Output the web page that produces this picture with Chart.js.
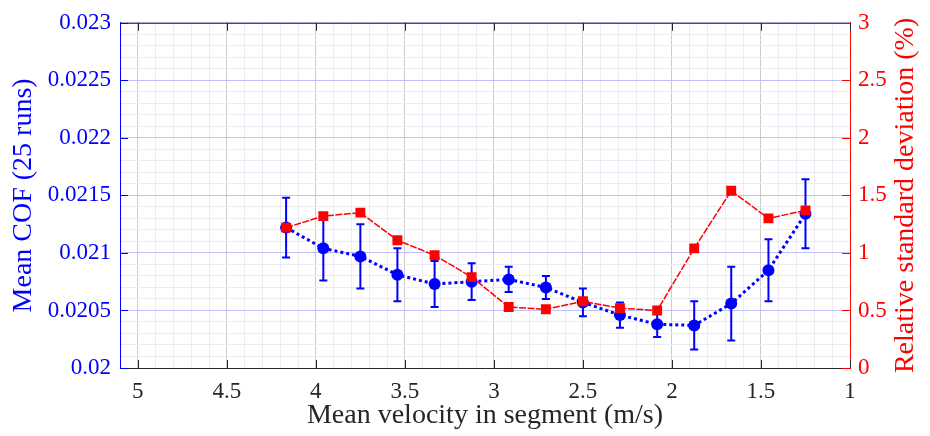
<!DOCTYPE html>
<html>
<head>
<meta charset="utf-8">
<script src="https://cdn.jsdelivr.net/npm/chart.js@4.4.1/dist/chart.umd.min.js"></script>
<style>
  html, body { margin: 0; padding: 0; background: #fff; }
  #wrap { width: 930px; height: 436px; }
</style>
</head>
<body>
<div id="wrap"><canvas id="cofChart" width="930" height="436"></canvas></div>
<script>
// data
const velocity = [4.167, 3.958, 3.75, 3.542, 3.333, 3.125, 2.917, 2.708, 2.5, 2.292, 2.083, 1.875, 1.667, 1.458, 1.25];
const meanCof = [0.02122, 0.02104, 0.02097, 0.02081, 0.02073, 0.02075, 0.02077, 0.02070, 0.02057, 0.02046, 0.02038, 0.02037, 0.02056, 0.02085, 0.02134];
const cofErr = [0.00026, 0.00028, 0.00028, 0.00023, 0.00020, 0.00016, 0.00011, 0.00010, 0.00012, 0.00011, 0.00011, 0.00021, 0.00032, 0.00027, 0.00030];
const relStd = [1.22, 1.32, 1.35, 1.11, 0.98, 0.79, 0.53, 0.51, 0.58, 0.52, 0.50, 1.04, 1.54, 1.30, 1.37];

const xTitle = 'Mean velocity in segment (m/s)';
const yTitle = 'Mean COF (25 runs)';
const y1Title = 'Relative standard deviation (%)';

const BLUE = '#0000ff';
const RED = '#ff0000';
const AXIS = '#262626';
const tickFont = { family: '"Liberation Serif", serif', size: 23 };
const titleFont = { family: '"Liberation Serif", serif', size: 28 };

const isMult = (v, step) => Math.abs(v / step - Math.round(v / step)) < 1e-6;

// error bars + inward ticks + top border + right title
const extras = {
  id: 'extras',
  beforeDatasetsDraw(chart) {
    const { ctx, scales: { x, y } } = chart;
    ctx.save();
    ctx.strokeStyle = BLUE;
    ctx.lineWidth = 2;
    velocity.forEach((v, i) => {
      const px = x.getPixelForValue(v);
      const top = y.getPixelForValue(meanCof[i] + cofErr[i]);
      const bot = y.getPixelForValue(meanCof[i] - cofErr[i]);
      ctx.beginPath();
      ctx.moveTo(px, top); ctx.lineTo(px, bot);
      ctx.moveTo(px - 4, top); ctx.lineTo(px + 4, top);
      ctx.moveTo(px - 4, bot); ctx.lineTo(px + 4, bot);
      ctx.stroke();
    });
    ctx.restore();
  },
  afterDraw(chart) {
    const { ctx, chartArea: a, scales: { x, y, y1 } } = chart;
    ctx.save();
    ctx.lineWidth = 1;
    // top border
    ctx.strokeStyle = AXIS;
    ctx.beginPath();
    ctx.moveTo(a.left, a.top + 0.5); ctx.lineTo(a.right, a.top + 0.5);
    ctx.stroke();
    // x ticks, inward, bottom and top
    x.ticks.forEach(t => {
      if (!isMult(t.value, 0.5)) return;
      const px = Math.round(x.getPixelForValue(t.value)) + 0.5;
      ctx.beginPath();
      ctx.moveTo(px, a.bottom); ctx.lineTo(px, a.bottom - 8);
      ctx.moveTo(px, a.top); ctx.lineTo(px, a.top + 8);
      ctx.stroke();
    });
    ctx.strokeStyle = BLUE;
    y.ticks.forEach(t => {
      if (!isMult(t.value, 0.0005)) return;
      const py = Math.round(y.getPixelForValue(t.value)) + 0.5;
      ctx.beginPath();
      ctx.moveTo(a.left, py); ctx.lineTo(a.left + 8, py);
      ctx.stroke();
    });
    ctx.strokeStyle = RED;
    y1.ticks.forEach(t => {
      const py = Math.round(y1.getPixelForValue(t.value)) + 0.5;
      ctx.beginPath();
      ctx.moveTo(a.right, py); ctx.lineTo(a.right - 8, py);
      ctx.stroke();
    });
    // right axis title, reads bottom to top
    ctx.fillStyle = RED;
    ctx.font = titleFont.size + 'px ' + titleFont.family;
    ctx.textAlign = 'center';
    ctx.textBaseline = 'middle';
    ctx.translate(906, (a.top + a.bottom) / 2);
    ctx.rotate(-Math.PI / 2);
    ctx.fillText(y1Title, 0, 0);
    ctx.restore();
  }
};

new Chart(document.getElementById('cofChart'), {
  type: 'line',
  data: {
    datasets: [
      {
        label: 'Mean COF',
        data: velocity.map((v, i) => ({ x: v, y: meanCof[i] })),
        yAxisID: 'y',
        borderColor: BLUE,
        backgroundColor: BLUE,
        borderWidth: 3,
        borderDash: [3, 3],
        pointStyle: 'circle',
        pointRadius: 6,
        pointBorderWidth: 0,
        order: 2
      },
      {
        label: 'Relative standard deviation',
        data: velocity.map((v, i) => ({ x: v, y: relStd[i] })),
        yAxisID: 'y1',
        borderColor: RED,
        backgroundColor: RED,
        borderWidth: 1.5,
        borderDash: [7, 1.5],
        pointStyle: 'rect',
        pointRadius: 7,
        pointBorderWidth: 0,
        order: 1
      }
    ]
  },
  options: {
    responsive: false,
    animation: false,
    devicePixelRatio: 1,
    layout: { padding: { top: 20, left: 0, right: 0, bottom: 0 } },
    plugins: { legend: { display: false }, tooltip: { enabled: false } },
    scales: {
      x: {
        type: 'linear',
        reverse: true,
        min: 1,
        max: 5.1,
        ticks: {
          stepSize: 0.1,
          autoSkip: false,
          maxRotation: 0,
          padding: 10,
          color: AXIS,
          font: tickFont,
          callback: v => isMult(v, 0.5) ? String(parseFloat(v.toFixed(1))) : ''
        },
        grid: {
          drawTicks: false,
          color: c => isMult(c.tick.value, 0.5) ? '#cdcdcd' : '#ebebf3'
        },
        border: { color: AXIS, width: 1 },
        title: { display: true, text: xTitle, color: AXIS, font: titleFont, padding: { top: 0, bottom: 4 } },
        afterFit: s => { s.height = 68; }
      },
      y: {
        position: 'left',
        min: 0.02,
        max: 0.023,
        ticks: {
          stepSize: 0.0001,
          autoSkip: false,
          padding: 9,
          color: BLUE,
          font: tickFont,
          callback: v => isMult(v, 0.0005) ? String(parseFloat(v.toFixed(4))) : ''
        },
        grid: {
          drawTicks: false,
          color: c => isMult(c.tick.value, 0.0005) ? '#c0c0ff' : '#ebebf3'
        },
        border: { color: BLUE, width: 1 },
        title: { display: true, text: yTitle, color: BLUE, font: titleFont, padding: { top: 7, bottom: 0 } },
        afterFit: s => { s.width = 120; }
      },
      y1: {
        position: 'right',
        min: 0,
        max: 3,
        ticks: {
          stepSize: 0.5,
          padding: 8,
          color: RED,
          font: tickFont,
          callback: v => String(parseFloat(v.toFixed(1)))
        },
        grid: { drawOnChartArea: false, drawTicks: false },
        border: { color: RED, width: 1 },
        afterFit: s => { s.width = 80; }
      }
    }
  },
  plugins: [extras]
});
</script>
</body>
</html>
